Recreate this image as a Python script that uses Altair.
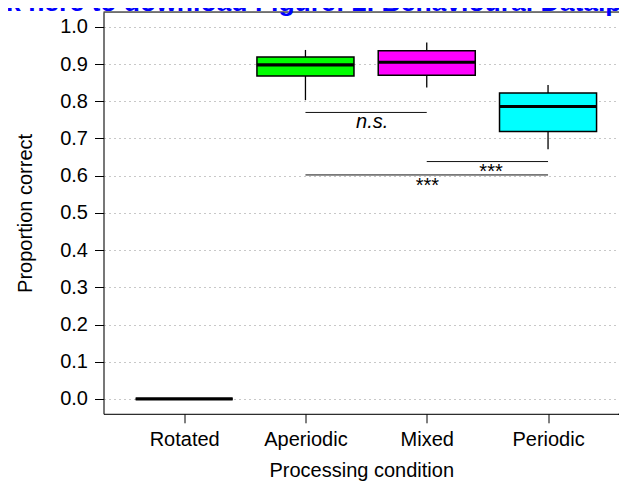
import altair as alt
import pandas as pd

# ---- data ----
conditions = ["Rotated", "Aperiodic", "Mixed", "Periodic"]
positions = [1, 2, 3, 4]
whisker_low = [0.0, 0.803, 0.837, 0.671]
box_low = [0.0, 0.868, 0.870, 0.719]
medians = [0.0, 0.898, 0.905, 0.786]
box_high = [0.0, 0.919, 0.936, 0.822]
whisker_high = [0.0, 0.938, 0.958, 0.844]
fill_colors = ["#ffffff", "#00ff00", "#ff00ff", "#00ffff"]

sig_from = [2, 3, 2]
sig_to = [3, 4, 4]
sig_level = [0.770, 0.638, 0.602]

ns_label = ["n.s."]
ns_x = [2.55]
ns_y = [0.728]
star_labels = ["***", "***"]
star_x = [3.53, 3.005]
star_y = [0.594, 0.556]

y_ticks = [0.0, 0.1, 0.2, 0.3, 0.4, 0.5, 0.6, 0.7, 0.8, 0.9, 1.0]
title_text = ["Click here to download Figure: 2. Behavioural Data.pdf"]

# ---- layout constants ----
W = 515.5
H = 401.8
HALF = 0.4
FONT = "Liberation Sans"

boxes = pd.DataFrame({
    "cond": conditions,
    "pos": positions,
    "wlo": whisker_low,
    "blo": box_low,
    "med": medians,
    "bhi": box_high,
    "whi": whisker_high,
})
boxes["xlo"] = boxes["pos"] - HALF
boxes["xhi"] = boxes["pos"] + HALF

sig = pd.DataFrame({"x1": sig_from, "x2": sig_to, "lvl": sig_level})
ns_df = pd.DataFrame({"lab": ns_label, "x": ns_x, "y": ns_y})
star_df = pd.DataFrame({"lab": star_labels, "x": star_x, "y": star_y})
title_df = pd.DataFrame({"t": title_text})

xs = alt.Scale(domain=[0.335, 4.585], nice=False, zero=False)
ys = alt.Scale(domain=[-0.04, 1.04], nice=False, zero=False)

label_expr = "[" + ",".join("'" + c + "'" for c in conditions) + "][datum.value - 1]"

x_axis = alt.Axis(
    values=positions, labelExpr=label_expr, title="Processing condition",
    grid=False, domainColor="black", domainWidth=1, tickColor="black",
    tickSize=9, tickWidth=1, labelFontSize=20, titleFontSize=20,
    labelPadding=7, titlePadding=11, labelColor="black", titleColor="black",
    titleFontWeight="normal", labelFont=FONT, titleFont=FONT,
)
y_axis = alt.Axis(
    values=y_ticks, format=".1f", title="Proportion correct",
    grid=True, gridDash=[2, 3], gridColor="#c8c8c8", gridWidth=1,
    domainColor="black", domainWidth=1, tickColor="black", tickSize=9,
    tickWidth=1, labelFontSize=20, titleFontSize=20, labelPadding=7,
    titlePadding=24, labelColor="black", titleColor="black",
    titleFontWeight="normal", labelFont=FONT, titleFont=FONT,
)


def X(field):
    return alt.X(field, scale=xs, axis=x_axis)


def Y(field):
    return alt.Y(field, scale=ys, axis=y_axis)


base = alt.Chart(boxes)

whiskers = base.mark_rule(color="black", strokeWidth=1.3).encode(
    x=X("pos:Q"), y=Y("wlo:Q"), y2="whi:Q",
)

rects = base.mark_bar(stroke="black", strokeWidth=1.5).encode(
    x=X("xlo:Q"), x2="xhi:Q", y=Y("blo:Q"), y2="bhi:Q",
    color=alt.Color("cond:N", scale=alt.Scale(domain=conditions, range=fill_colors), legend=None),
)

med_lines = base.mark_rule(color="black", strokeWidth=3.2).encode(
    x=X("xlo:Q"), x2="xhi:Q", y=Y("med:Q"),
)

sig_lines = alt.Chart(sig).mark_rule(color="#111111", strokeWidth=1).encode(
    x=X("x1:Q"), x2="x2:Q", y=Y("lvl:Q"),
)

ns_text = alt.Chart(ns_df).mark_text(
    fontSize=20, font=FONT, fontStyle="italic", baseline="alphabetic", align="center", color="black"
).encode(
    x=X("x:Q"), y=Y("y:Q"), text="lab:N",
)

star_text = alt.Chart(star_df).mark_text(
    fontSize=20, font=FONT, baseline="alphabetic", align="center", color="black"
).encode(
    x=X("x:Q"), y=Y("y:Q"), text="lab:N",
)

# frame: top edge, and both edges continuing to the window's right border
top_frame = alt.Chart(title_df).mark_rule(color="black", strokeWidth=1).encode(
    x=alt.value(0), x2=alt.value(W + 10), y=alt.value(0)
)
bottom_ext = alt.Chart(title_df).mark_rule(color="black", strokeWidth=1).encode(
    x=alt.value(W - 1), x2=alt.value(W + 10), y=alt.value(H + 0.5)
)

page_title = alt.Chart(title_df).mark_text(
    fontSize=26.5, font=FONT, fontWeight="bold", color="#0000ff",
    baseline="alphabetic", align="center",
).encode(
    x=alt.value(198.5), y=alt.value(-1), text="t:N"
)

chart = alt.layer(
    whiskers, rects, med_lines, sig_lines, ns_text, star_text, top_frame, bottom_ext, page_title
).properties(
    width=W, height=H,
    autosize=alt.AutoSizeParams(type="none"),
    padding={"left": 95.5, "top": 4, "right": 0, "bottom": 69.2},
).configure_view(strokeWidth=0, stroke="transparent").configure(font=FONT)

chart.save("out.html", embed_options={"renderer": "svg", "actions": False})
